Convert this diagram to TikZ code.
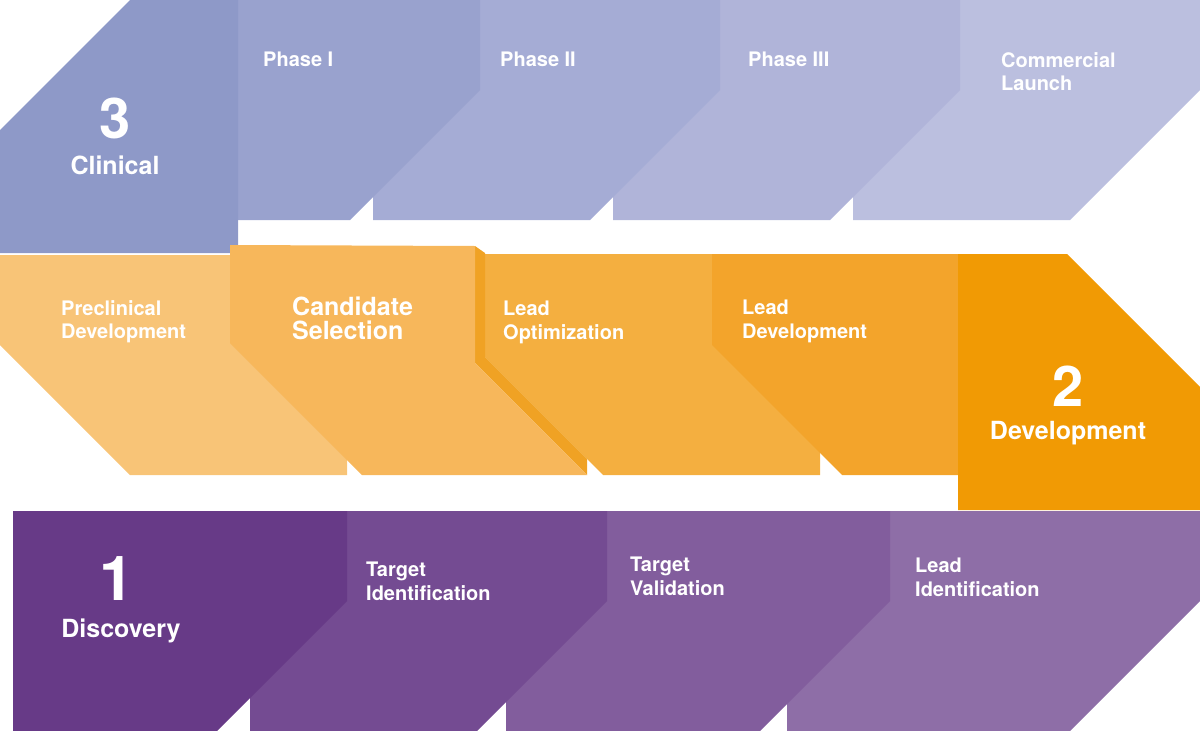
\documentclass[tikz,border=0pt]{standalone}
\usepackage{fontspec}
\setmainfont{TeX Gyre Heros}
\usetikzlibrary{positioning}

\definecolor{clinA}{HTML}{8E99C8}
\definecolor{clinB}{HTML}{99A2CE}
\definecolor{clinC}{HTML}{A5ACD5}
\definecolor{clinD}{HTML}{B0B4D9}
\definecolor{clinE}{HTML}{BBBFDF}
\definecolor{devA}{HTML}{F8C477}
\definecolor{devB}{HTML}{F7B75B}
\definecolor{devSide}{HTML}{F0A224}
\definecolor{devC}{HTML}{F4AF40}
\definecolor{devD}{HTML}{F3A42B}
\definecolor{devE}{HTML}{F19A04}
\definecolor{discA}{HTML}{673A87}
\definecolor{discB}{HTML}{744B92}
\definecolor{discC}{HTML}{825D9D}
\definecolor{discD}{HTML}{8E6EA7}

\tikzset{
    steplabel/.style={text=white, font=\bfseries\fontsize{20}{23.5}\selectfont,
        align=left, anchor=north west, inner sep=0pt},
    bigstep/.style={steplabel, font=\bfseries\fontsize{25}{24}\selectfont},
    stagelabel/.style={text=white, font=\bfseries\fontsize{25}{29}\selectfont, inner sep=0pt},
    stagenum/.style={text=white, font=\bfseries\fontsize{56}{60}\selectfont, inner sep=0pt},
}

\begin{document}
\begin{tikzpicture}[x=1pt,y=-1pt]
\useasboundingbox (0,0) rectangle (1200,731);
    % Clinical row, right to left
    \foreach \i/\col in {4/clinE,3/clinD,2/clinC,1/clinB} {
        \fill[\col] ({240*\i-107},0) -- ({240+240*\i},0) -- ({240+240*\i},90)
            -- ({110+240*\i},220) -- ({240*\i-107},220) -- cycle;
    }
    \fill[clinA] (0,130) -- (130,0) -- (238,0) -- (238,253) -- (0,253) -- cycle;

    % Development row
    \fill[devA] (0,255) -- (347,255) -- (347,475) -- (130,475) -- (0,345) -- cycle;
    \fill[devC] (485,254) -- (820,254) -- (820,475) -- (603,475) -- (485,357) -- cycle;
    \fill[devSide] (475,246) -- (485,253) -- (485,357) -- (587,459) -- (587,475)
        -- (475,363) -- cycle;
    \fill[devB] (230,245) -- (475,246) -- (475,363) -- (587,475) -- (362,475)
        -- (230,343) -- cycle;
    \fill[devD] (712,254) -- (960,254) -- (960,475) -- (842,475) -- (712,345) -- cycle;
    \fill[devE] (958,254) -- (1067,254) -- (1200,387) -- (1200,510) -- (958,510) -- cycle;

    % Discovery row, right to left
    \foreach \l/\r/\col in {787/1200/discD,506/890/discC,250/607/discB,13/347/discA} {
        \fill[\col] (\l,511) -- (\r,511) -- (\r,601) -- ({\r-130},731) -- (\l,731) -- cycle;
    }

    % labels
    \node[stagenum] (num3) at (115,118) {3};
    \node[stagelabel, below=17pt of num3] (clinical) {Clinical};
    \node[steplabel] (phase1) at (263,52) {Phase I};
    \node[steplabel] (phase2) at (500,52) {Phase II};
    \node[steplabel] (phase3) at (748,52) {Phase III};
    \node[steplabel] (launch) at (1001,52) {Commercial\\Launch};

    \node[steplabel] (preclin) at (61,300) {Preclinical\\Development};
    \node[bigstep] (candidate) at (292,297) {Candidate\\Selection};
    \node[steplabel] (leadopt) at (503,301) {Lead\\Optimization};
    \node[steplabel] (leaddev) at (742,300) {Lead\\Development};
    \node[stagenum] (num2) at (1068,386) {2};
    \node[stagelabel, below=15pt of num2] (development) {Development};

    \node[stagenum, font=\bfseries\fontsize{62}{66}\selectfont] (num1) at (117,579) {1};
    \node[stagelabel, below=17pt of num1, xshift=4pt] (discovery) {Discovery};
    \node[steplabel] (targetid) at (366,562) {Target\\Identification};
    \node[steplabel] (targetval) at (630,557) {Target\\Validation};
    \node[steplabel] (leadid) at (915,558) {Lead\\Identification};
\end{tikzpicture}
\end{document}
